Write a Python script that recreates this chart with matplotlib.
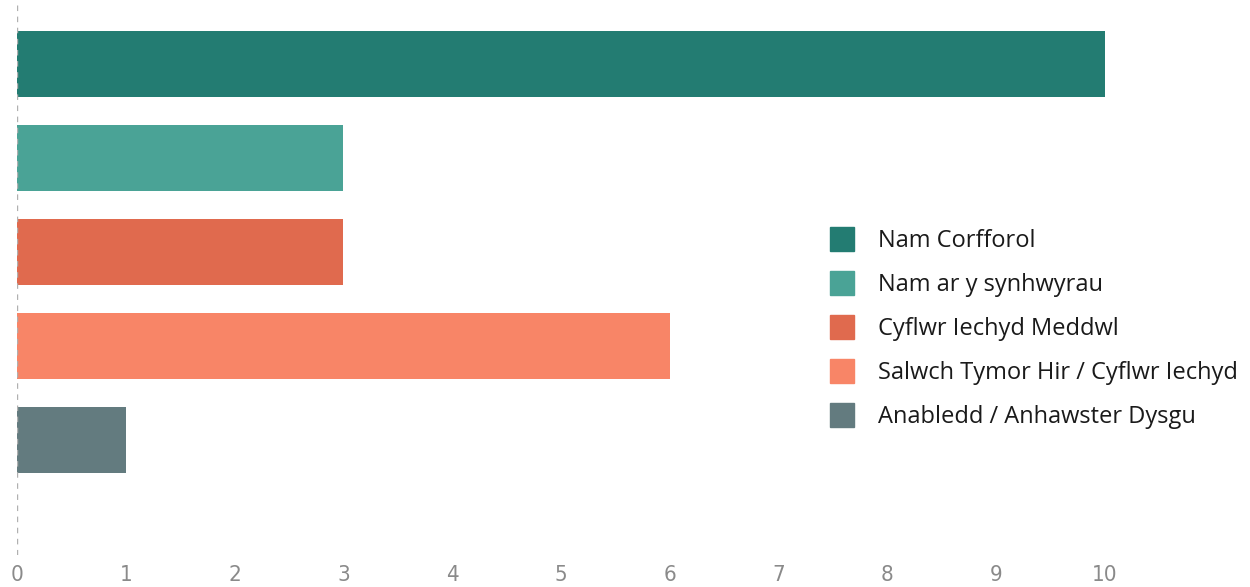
import matplotlib
matplotlib.use("Agg")
import matplotlib.pyplot as plt
from matplotlib.lines import Line2D

categories = ["Nam Corfforol", "Nam ar y synhwyrau", "Cyflwr Iechyd Meddwl",
              "Salwch Tymor Hir / Cyflwr Iechyd", "Anabledd / Anhawster Dysgu"]
values = [10, 3, 3, 6, 1]
colors = ["#237c72", "#4aa396", "#e06a4e", "#f88567", "#637b7f"]
xticks = list(range(0, 11))

fig = plt.figure(figsize=(12.5, 5.87), dpi=100)
W, H = 1250, 587
x0px, x10px = 17, 1105
ax = fig.add_axes([x0px / W, (587 - 555) / H, (1250 - x0px) / W, 555 / H])
unit = (x10px - x0px) / 10
ax.set_xlim(0, (1250 - x0px) / unit)

pos = list(range(len(categories)))
ax.barh(pos, values, height=0.70, color=colors)
ax.set_ylim(5.22, -0.68)

for s in ax.spines.values():
    s.set_visible(False)
ax.axvline(0, color="#b0b0b0", lw=1, ls=(0, (4, 4)))
ax.set_yticks([])
ax.set_xticks(xticks)
ax.tick_params(axis="x", length=0, pad=7, labelsize=16, labelcolor="#8a8a8a")
for lbl in ax.get_xticklabels():
    lbl.set_family(["Liberation Sans Narrow", "DejaVu Sans"])
    lbl.set_fontstretch("condensed")

handles = [Line2D([], [], marker="s", linestyle="none", markersize=17,
                  markerfacecolor=c, markeredgecolor=c) for c in colors]
leg = fig.legend(handles, categories, loc="upper left",
                 bbox_to_anchor=(830 / W, 1 - 229 / H), frameon=False,
                 prop={"family": ["Open Sans", "DejaVu Sans"], "size": 17},
                 handlelength=1.0, handletextpad=1.05, labelspacing=0.85,
                 borderpad=0, borderaxespad=0)
for t in leg.get_texts():
    t.set_color("#1a1a1a")

fig.savefig("out.png", dpi=100)
